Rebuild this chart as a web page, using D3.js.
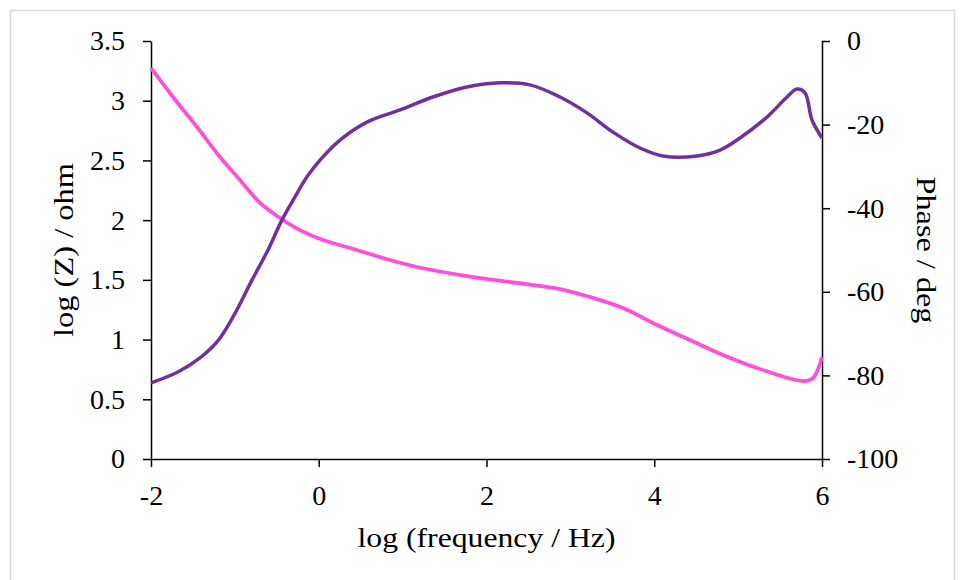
<!DOCTYPE html>
<html>
<head>
<meta charset="utf-8">
<script src="https://cdn.jsdelivr.net/npm/d3@7"></script>
<style>
  body { margin: 0; background: #fff; }
  svg text { font-family: "Liberation Serif", "Times New Roman", serif; fill: #000; }
  .axis path, .axis line { stroke: #000; stroke-width: 1.5px; }
</style>
</head>
<body>
<svg id="chart" width="961" height="580"></svg>
<script>
// log(frequency / Hz) and log|Z| / ohm (left axis)
var zFreq = [-2, -1.738, -1.452, -1.177, -0.939, -0.7, -0.462, -0.224, 0.051, 0.456, 0.849,
             1.171, 1.767, 2.364, 2.876, 3.234, 3.627, 4.033, 4.426, 4.82, 5.225, 5.774, 5.893, 6];
var logZ = [3.274, 3.031, 2.78, 2.529, 2.336, 2.144, 2.018, 1.917, 1.834, 1.75, 1.666,
            1.608, 1.532, 1.474, 1.423, 1.356, 1.264, 1.122, 0.996, 0.871, 0.762, 0.653, 0.678, 0.854];

// phase / deg (right axis)
var phaseFreq = [-2, -1.68, -1.416, -1.213, -1.022, -0.796, -0.605, -0.438, -0.283, -0.14, 0.015,
                 0.253, 0.575, 0.969, 1.362, 1.767, 2.161, 2.519, 2.876, 3.198, 3.508, 3.83,
                 4.104, 4.51, 4.784, 5.022, 5.344, 5.583, 5.702, 5.797, 5.881, 6];
var phase = [-81.8, -79.2, -75.8, -72.0, -66.0, -57.2, -50.0, -42.8, -37.3, -32.5, -28.5,
             -23.7, -19.4, -16.5, -13.4, -11.0, -10.0, -10.5, -13.4, -17.2, -21.8, -25.6,
             -27.5, -27.5, -26.1, -23.2, -18.2, -13.4, -11.5, -12.4, -18.9, -23.2];

var xTicks = [-2, 0, 2, 4, 6];
var zTicks = [0, 0.5, 1, 1.5, 2, 2.5, 3, 3.5];
var phaseTicks = [-100, -80, -60, -40, -20, 0];

var svg = d3.select('#chart'),
    plotLeft = 151,
    plotRight = 822,
    plotTop = 41,
    plotBottom = 459,
    fontSize = 28;

svg.append('rect')
   .attr('x', 10.5)
   .attr('y', 10.5)
   .attr('width', 944)
   .attr('height', 600)
   .attr('fill', '#fff')
   .attr('stroke', '#d9d9d9')
   .attr('stroke-width', 1.5);

var x = d3.scaleLinear().domain([-2, 6]).range([plotLeft, plotRight]),
    yZ = d3.scaleLinear().domain([0, 3.5]).range([plotBottom, plotTop]),
    yP = d3.scaleLinear().domain([-100, 0]).range([plotBottom, plotTop]);

var fmt = function(d){ return String(d); };

svg.append('g')
   .attr('class', 'axis')
   .attr('transform', 'translate(0,' + plotBottom + ')')
   .call(d3.axisBottom(x).tickValues(xTicks).tickFormat(fmt).tickSize(8).tickSizeOuter(0).tickPadding(18));

svg.append('g')
   .attr('class', 'axis')
   .attr('transform', 'translate(' + plotLeft + ',0)')
   .call(d3.axisLeft(yZ).tickValues(zTicks).tickFormat(fmt).tickSize(8).tickSizeOuter(0).tickPadding(18));

svg.append('g')
   .attr('class', 'axis')
   .attr('transform', 'translate(' + plotRight + ',0)')
   .call(d3.axisRight(yP).tickValues(phaseTicks).tickFormat(fmt).tickSize(8).tickSizeOuter(0).tickPadding(17));

svg.selectAll('.axis text')
   .style('font-size', fontSize + 'px')
   .style('font-family', '"Liberation Serif", "Times New Roman", serif');

var zLine = d3.line()
   .x(function(d, i){ return x(zFreq[i]); })
   .y(function(d){ return yZ(d); })
   .curve(d3.curveCatmullRom.alpha(0.5));

var pLine = d3.line()
   .x(function(d, i){ return x(phaseFreq[i]); })
   .y(function(d){ return yP(d); })
   .curve(d3.curveCatmullRom.alpha(0.5));

svg.append('path')
   .datum(logZ)
   .attr('d', zLine)
   .attr('fill', 'none')
   .attr('stroke', '#ff4fd8')
   .attr('stroke-width', 3.75);

svg.append('path')
   .datum(phase)
   .attr('d', pLine)
   .attr('fill', 'none')
   .attr('stroke', '#7030a0')
   .attr('stroke-width', 3.5);

svg.append('text')
   .text('log (frequency / Hz)')
   .attr('x', (plotLeft + plotRight) / 2)
   .attr('y', 547)
   .attr('text-anchor', 'middle')
   .attr('textLength', 258)
   .attr('lengthAdjust', 'spacingAndGlyphs')
   .style('font-size', fontSize + 'px');

svg.append('text')
   .text('log (Z) / ohm')
   .attr('transform', 'translate(73,' + (plotTop + plotBottom) / 2 + ') rotate(-90)')
   .attr('text-anchor', 'middle')
   .attr('textLength', 174)
   .attr('lengthAdjust', 'spacingAndGlyphs')
   .style('font-size', fontSize + 'px');

svg.append('text')
   .text('Phase / deg')
   .attr('transform', 'translate(917,' + (plotTop + plotBottom) / 2 + ') rotate(90)')
   .attr('text-anchor', 'middle')
   .attr('textLength', 147)
   .attr('lengthAdjust', 'spacingAndGlyphs')
   .style('font-size', fontSize + 'px');
</script>
</body>
</html>
